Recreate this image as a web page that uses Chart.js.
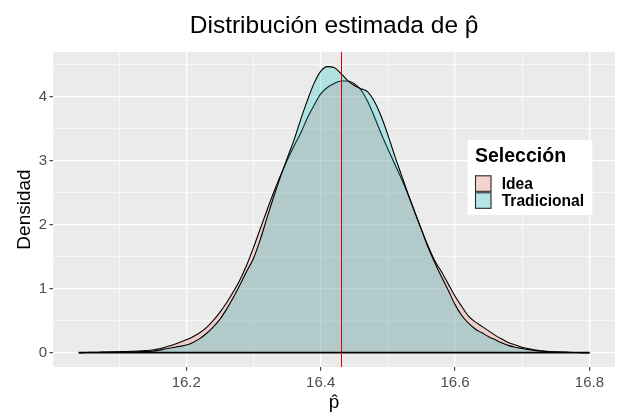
<!DOCTYPE html>
<html><head><meta charset="utf-8">
<script src="https://cdn.jsdelivr.net/npm/chart.js@4"></script>
<style>html,body{margin:0;padding:0;background:#fff;} canvas{display:block;}</style>
</head><body>
<canvas id="c" width="618" height="417"></canvas>
<script>
// ---------- data ----------
const xValues = [
16.04,16.05,16.06,16.07,16.08,16.09,16.10,16.11,16.12,16.13,
16.14,16.15,16.16,16.17,16.18,16.19,16.20,16.21,16.22,16.23,
16.24,16.25,16.26,16.27,16.28,16.29,16.30,16.31,16.32,16.33,
16.34,16.35,16.36,16.37,16.38,16.39,16.40,16.41,16.42,16.43,
16.44,16.45,16.46,16.47,16.48,16.49,16.50,16.51,16.52,16.53,
16.54,16.55,16.56,16.57,16.58,16.59,16.60,16.61,16.62,16.63,
16.64,16.65,16.66,16.67,16.68,16.69,16.70,16.71,16.72,16.73,
16.74,16.75,16.76,16.77,16.78,16.79,16.80];
const ideaDensity = [
0.000,0.003,0.005,0.007,0.010,0.012,0.015,0.018,0.022,0.027,
0.033,0.042,0.060,0.090,0.120,0.160,0.200,0.250,0.310,0.390,
0.500,0.630,0.780,0.950,1.140,1.370,1.640,1.930,2.220,2.500,
2.760,3.000,3.220,3.420,3.660,3.860,4.040,4.140,4.200,4.240,
4.240,4.200,4.100,3.920,3.680,3.420,3.180,2.950,2.720,2.470,
2.190,1.920,1.660,1.430,1.260,1.070,0.880,0.720,0.570,0.480,
0.410,0.340,0.270,0.210,0.155,0.120,0.085,0.060,0.040,0.028,
0.018,0.012,0.008,0.005,0.003,0.001,0.000];
const tradicionalDensity = [
0.000,0.002,0.003,0.004,0.005,0.006,0.008,0.010,0.012,0.015,
0.018,0.024,0.040,0.062,0.080,0.098,0.120,0.160,0.220,0.300,
0.400,0.520,0.680,0.860,1.060,1.270,1.470,1.760,2.100,2.430,
2.740,3.030,3.310,3.630,3.930,4.200,4.390,4.465,4.450,4.360,
4.250,4.170,4.120,4.070,3.920,3.690,3.400,3.080,2.780,2.480,
2.200,1.920,1.640,1.400,1.180,0.970,0.750,0.580,0.460,0.370,
0.310,0.250,0.200,0.150,0.110,0.085,0.065,0.045,0.032,0.022,
0.015,0.010,0.006,0.004,0.002,0.001,0.000];
const seriesNames = ['Idea', 'Tradicional'];
const xMajorTicks = [16.2, 16.4, 16.6, 16.8];
const xMinorTicks = [16.1, 16.3, 16.5, 16.7];
const xTickLabels = ['16.2', '16.4', '16.6', '16.8'];
const yMajorTicks = [0, 1, 2, 3, 4];
const yMinorTicks = [0.5, 1.5, 2.5, 3.5, 4.5];
const yTickLabels = ['0', '1', '2', '3', '4'];
const referenceLine = [16.43];
const xLimits = [16.002, 16.838];
const yLimits = [-0.2235, 4.6935];
const chartTitle = 'Distribución estimada de p\u0302';
const xAxisTitle = 'p\u0302';
const yAxisTitle = 'Densidad';
const legendTitle = 'Selección';

// ---------- helpers ----------
const FONT = "'Liberation Sans', Arial, Helvetica, sans-serif";
const near = (a, b) => Math.abs(a - b) < 1e-6;
const idxOf = (arr, v) => arr.findIndex(a => near(a, v));
const buildTicks = (major, minor) => [...major, ...minor].sort((a, b) => a - b).map(v => ({ value: v }));
const seriesFill = ['rgba(248,118,109,0.25)', 'rgba(0,191,196,0.25)'];

const panelBg = {
  id: 'panelBg',
  beforeDraw(chart) {
    const { ctx, chartArea: a } = chart;
    ctx.save();
    ctx.fillStyle = '#EBEBEB';
    ctx.fillRect(a.left, a.top, a.right - a.left, a.bottom - a.top);
    ctx.restore();
  }
};
const refLinePlugin = {
  id: 'refLine',
  afterDatasetsDraw(chart) {
    const { ctx, chartArea: a, scales } = chart;
    ctx.save();
    ctx.strokeStyle = '#E00000';
    ctx.lineWidth = 1;
    referenceLine.forEach(v => {
      const px = Math.round(scales.x.getPixelForValue(v)) + 0.5;
      ctx.beginPath();
      ctx.moveTo(px, a.top);
      ctx.lineTo(px, a.bottom);
      ctx.stroke();
    });
    ctx.restore();
  }
};
const legendPlugin = {
  id: 'insideLegend',
  afterDraw(chart) {
    const { ctx } = chart;
    const bx = 467.7, by = 140, bw = 124.6, bh = 75;
    ctx.save();
    ctx.fillStyle = '#FFFFFF';
    ctx.fillRect(bx, by, bw, bh);
    ctx.fillStyle = '#000';
    ctx.textBaseline = 'alphabetic';
    ctx.textAlign = 'left';
    ctx.font = 'bold 19.5px ' + FONT;
    ctx.fillText(legendTitle, bx + 7.3, by + 21.7);
    const keyTops = [175.3, 192.3];
    const baselines = [189, 206.2];
    seriesNames.forEach((name, i) => {
      const kx = 475, ky = keyTops[i], ks = 16.5;
      ctx.fillStyle = '#F2F2F2';
      ctx.fillRect(kx, ky, ks, ks);
      ctx.fillStyle = seriesFill[i];
      ctx.fillRect(kx, ky, ks, ks);
      ctx.strokeStyle = '#2b2b2b';
      ctx.lineWidth = 1.1;
      ctx.strokeRect(kx + 0.5, ky + 0.5, ks - 1, ks - 1);
      ctx.fillStyle = '#000';
      ctx.font = 'bold 15.6px ' + FONT;
      ctx.fillText(name, 501.7, baselines[i]);
    });
    ctx.restore();
  }
};

const toPoints = ys => xValues.map((x, i) => ({ x: x, y: ys[i] }));

new Chart(document.getElementById('c'), {
  type: 'line',
  data: {
    datasets: [
      { label: seriesNames[0], data: toPoints(ideaDensity), borderColor: '#000', borderWidth: 1.1,
        backgroundColor: seriesFill[0], fill: 'origin', pointRadius: 0, cubicInterpolationMode: 'monotone', order: 2 },
      { label: seriesNames[1], data: toPoints(tradicionalDensity), borderColor: '#000', borderWidth: 1.1,
        backgroundColor: seriesFill[1], fill: 'origin', pointRadius: 0, cubicInterpolationMode: 'monotone', order: 1 },
      { label: 'baseline', data: [{ x: xValues[0], y: 0 }, { x: xValues[xValues.length - 1], y: 0 }],
        borderColor: '#000', borderWidth: 1.8, fill: false, pointRadius: 0, order: 0 }
    ]
  },
  options: {
    responsive: false,
    animation: false,
    devicePixelRatio: 1,
    layout: { padding: { left: 0, right: 3, top: 0, bottom: 0 } },
    plugins: {
      legend: { display: false },
      tooltip: { enabled: false },
      title: { display: true, text: chartTitle, fullSize: false, color: '#000',
        font: { family: FONT, size: 24.5, weight: 'normal' }, padding: { top: 11.6, bottom: 11.0 } }
    },
    scales: {
      x: {
        type: 'linear', min: xLimits[0], max: xLimits[1],
        afterBuildTicks: s => { s.ticks = buildTicks(xMajorTicks, xMinorTicks); },
        afterFit: s => { s.height = 50; },
        border: { display: false },
        grid: {
          color: '#FFFFFF',
          lineWidth: c => (c.tick && idxOf(xMajorTicks, c.tick.value) >= 0) ? 1.3 : 0.6,
          tickColor: c => (c.tick && idxOf(xMajorTicks, c.tick.value) >= 0) ? '#333333' : 'rgba(0,0,0,0)',
          tickLength: 3.7, tickWidth: 1.1, drawTicks: true
        },
        ticks: {
          autoSkip: false, maxRotation: 0, minRotation: 0, padding: 3,
          color: '#4D4D4D', font: { family: FONT, size: 15 },
          callback: v => { const i = idxOf(xMajorTicks, v); return i >= 0 ? xTickLabels[i] : ''; }
        },
        title: { display: true, text: xAxisTitle, color: '#000', font: { family: FONT, size: 19 }, padding: { top: 0, bottom: 3.2 } }
      },
      y: {
        type: 'linear', min: yLimits[0], max: yLimits[1],
        afterBuildTicks: s => { s.ticks = buildTicks(yMajorTicks, yMinorTicks); },
        afterFit: s => { s.width = 53.2; },
        border: { display: false },
        grid: {
          color: '#FFFFFF',
          lineWidth: c => (c.tick && idxOf(yMajorTicks, c.tick.value) >= 0) ? 1.3 : 0.6,
          tickColor: c => (c.tick && idxOf(yMajorTicks, c.tick.value) >= 0) ? '#333333' : 'rgba(0,0,0,0)',
          tickLength: 3.7, tickWidth: 1.1, drawTicks: true
        },
        ticks: {
          autoSkip: false, padding: 2.5,
          color: '#4D4D4D', font: { family: FONT, size: 15 },
          callback: v => { const i = idxOf(yMajorTicks, v); return i >= 0 ? yTickLabels[i] : ''; }
        },
        title: { display: true, text: yAxisTitle, color: '#000', font: { family: FONT, size: 19 }, padding: { top: 13.6, bottom: 0 } }
      }
    }
  },
  plugins: [panelBg, refLinePlugin, legendPlugin]
});
</script>
</body></html>
